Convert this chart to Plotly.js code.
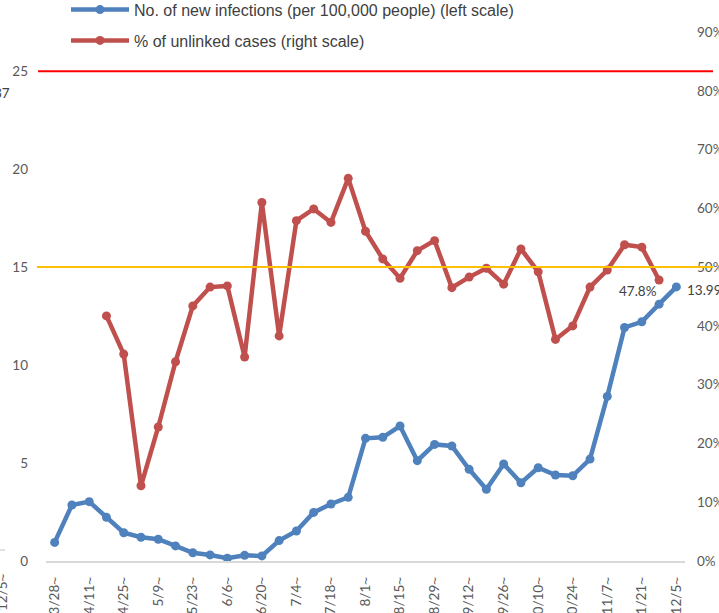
<!DOCTYPE html>
<html>
<head>
<meta charset="utf-8">
<script src="https://cdn.plot.ly/plotly-3.0.1.min.js"></script>
<style>html,body{margin:0;padding:0;background:#fff;}#chart{width:719px;height:613px;}</style>
</head>
<body>
<div id="chart"></div>
<script>
const categories = ["3/28~","4/4~","4/11~","4/18~","4/25~","5/2~","5/9~","5/16~","5/23~","5/30~","6/6~","6/13~","6/20~","6/27~","7/4~","7/11~","7/18~","7/25~","8/1~","8/8~","8/15~","8/22~","8/29~","9/5~","9/12~","9/19~","9/26~","10/3~","10/10~","10/17~","10/24~","10/31~","11/7~","11/14~","11/21~","11/28~","12/5~"];
const newInfections = [0.95,2.86,3.03,2.23,1.44,1.21,1.11,0.77,0.42,0.31,0.14,0.29,0.26,1.04,1.53,2.48,2.91,3.25,6.26,6.31,6.89,5.12,5.95,5.87,4.68,3.66,4.95,3.99,4.76,4.39,4.35,5.20,8.40,11.92,12.21,13.11,13.99];
const unlinkedPct = [null,null,null,41.7,35.2,12.8,22.8,33.9,43.4,46.6,46.8,34.7,61.0,38.3,57.9,59.9,57.6,65.1,56.1,51.4,48.1,52.8,54.5,46.5,48.3,49.8,47.1,53.1,49.2,37.7,40.0,46.6,49.5,53.8,53.4,47.8,null];
const seriesNames = ["No. of new infections (per 100,000 people) (left scale)", "% of unlinked cases (right scale)"];
const leftTicks = [0,5,10,15,20,25];
const rightTicks = [0,10,20,30,40,50,60,70,80,90];
const thresholdRed = 25;
const thresholdYellow = 15;

const tickCats = categories.filter((c,i)=>i%2===0);
const styleTilde = s => s.replace("~", "<span style=\"font-family:'Liberation Sans'\">~</span>");
const lastBlue = newInfections.length-1;
let lastRed = unlinkedPct.length-1; while (unlinkedPct[lastRed]===null) lastRed--;

const tickFont = {family:"Lato, 'Open Sans', sans-serif", size:13.5, color:"#595959"};
const labelFont = {family:"Lato, 'Open Sans', sans-serif", size:13.5, color:"#404040"};

const traces = [
  {x:categories, y:newInfections, name:seriesNames[0], type:"scatter", mode:"lines+markers", yaxis:"y",
   line:{color:"#4F81BD", width:4.5}, marker:{color:"#4F81BD", size:9}, legendgroup:"a", cliponaxis:false},
  {x:categories, y:unlinkedPct, name:seriesNames[1], type:"scatter", mode:"lines+markers", yaxis:"y2",
   line:{color:"#C0504D", width:4.5}, marker:{color:"#C0504D", size:9}, legendgroup:"b", connectgaps:false, cliponaxis:false}
];

const layout = {
  width:719, height:613,
  margin:{l:46, r:34, t:32, b:52, pad:0, autoexpand:false},
  paper_bgcolor:"#ffffff", plot_bgcolor:"#ffffff",
  showlegend:true,
  legend:{x:(66-46)/639, xanchor:"left", y:1+(32+7.3)/529, yanchor:"top", orientation:"v",
    font:{family:"'Liberation Sans', Arial, sans-serif", size:16, color:"#404040"},
    tracegroupgap:7, itemwidth:58, bgcolor:"rgba(0,0,0,0)", traceorder:"grouped"},
  xaxis:{type:"category", range:[-0.5, categories.length-0.5], tickmode:"array", tickvals:tickCats, ticktext:tickCats.map(styleTilde),
    tickangle:-90, showline:true, linecolor:"#D9D9D9", linewidth:1.5, showgrid:false, zeroline:false, ticks:"",
    tickfont:tickFont, ticklabelstandoff:9, automargin:false, fixedrange:true},
  yaxis:{range:[0,27], tickmode:"array", tickvals:leftTicks, ticktext:leftTicks.map(String), showgrid:false, zeroline:false, showline:false, ticks:"",
    tickfont:tickFont, ticklabelstandoff:17, automargin:false},
  yaxis2:{range:[0,90], overlaying:"y", side:"right", tickmode:"array", tickvals:rightTicks, ticktext:rightTicks.map(v=>v+"%"),
    showgrid:false, zeroline:false, showline:false, ticks:"", tickfont:tickFont, ticklabelstandoff:11, automargin:false},
  shapes:[
    {type:"line", xref:"paper", yref:"y", x0:(38-46)/639, x1:(713-46)/639, y0:thresholdRed, y1:thresholdRed, line:{color:"#FF0000", width:2}, layer:"above"},
    {type:"line", xref:"paper", yref:"y", x0:(37-46)/639, x1:(713-46)/639, y0:thresholdYellow, y1:thresholdYellow, line:{color:"#FFC000", width:2}, layer:"above"},
    {type:"line", xref:"paper", yref:"paper", x0:(0-46)/639, x1:(5-46)/639, y0:(561-550)/529, y1:(561-550)/529, line:{color:"#D9D9D9", width:1.5}}
  ],
  annotations:[
    {x:categories[lastRed], y:unlinkedPct[lastRed], xref:"x", yref:"y2", text:unlinkedPct[lastRed].toFixed(1)+"%",
     showarrow:false, xanchor:"right", yanchor:"top", xshift:0, yshift:-1, font:labelFont},
    {x:categories[lastBlue], y:newInfections[lastBlue], xref:"x", yref:"y", text:newInfections[lastBlue].toFixed(2),
     showarrow:false, xanchor:"left", yanchor:"middle", xshift:9, yshift:-3, font:labelFont},
    {x:(12-46)/639, y:(561-93)/529, xref:"paper", yref:"paper", text:"37", showarrow:false, xanchor:"right", yanchor:"middle", font:labelFont},
    {x:(2-46)/639, y:(561-592)/529, xref:"paper", yref:"paper", text:styleTilde("12/5~"), textangle:-90, showarrow:false, xanchor:"center", yanchor:"middle", font:tickFont}
  ]
};

Plotly.newPlot("chart", traces, layout, {displayModeBar:false, staticPlot:true});
</script>
</body>
</html>
